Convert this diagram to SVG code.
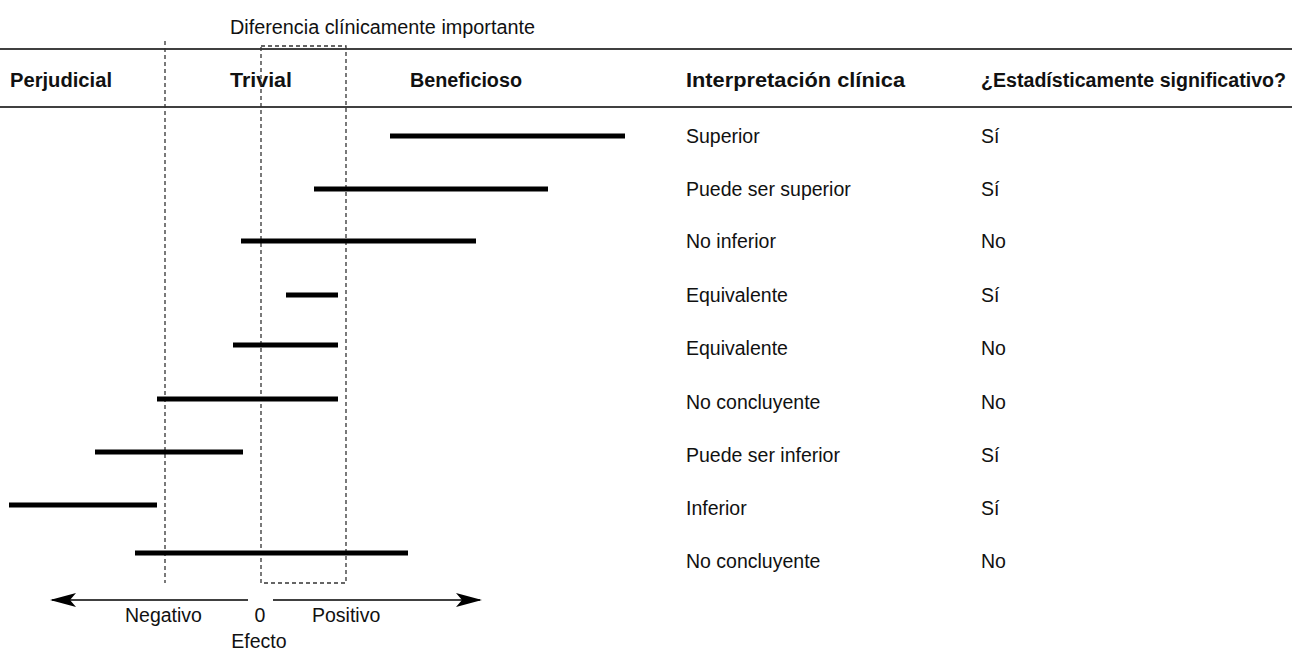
<svg xmlns="http://www.w3.org/2000/svg" width="1292" height="660" viewBox="0 0 1292 660">
<style>
text{font-family:"Liberation Sans",Arial,sans-serif;fill:#111;}
.h{font-size:19.5px;font-weight:bold;}
.t{font-size:19.5px;}
.bar{stroke:#000;stroke-width:5;}
.dash{stroke:#333;stroke-width:1.3;stroke-dasharray:4 3;fill:none;}
.rule{stroke:#000;stroke-width:1.5;}
.ax{stroke:#000;stroke-width:1.5;}
</style>
<defs>
<marker id="ah" viewBox="0 0 26 16" refX="24" refY="8" markerWidth="26" markerHeight="16" markerUnits="userSpaceOnUse" orient="auto-start-reverse">
<path d="M0,1 L26,8 L0,15 L6,8 Z" fill="#000"/>
</marker>
</defs>
<rect width="1292" height="660" fill="#fff"/>
<g id="header">
<text class="t" x="230" y="34" textLength="305" lengthAdjust="spacingAndGlyphs">Diferencia clínicamente importante</text>
<line class="rule" x1="0" y1="49" x2="1292" y2="49"/>
<line class="rule" x1="0" y1="107" x2="1292" y2="107"/>
<text class="h" x="10" y="87" textLength="102" lengthAdjust="spacingAndGlyphs">Perjudicial</text>
<text class="h" x="230" y="87" textLength="62" lengthAdjust="spacingAndGlyphs">Trivial</text>
<text class="h" x="410" y="87" textLength="112" lengthAdjust="spacingAndGlyphs">Beneficioso</text>
<text class="h" x="686" y="87" textLength="219" lengthAdjust="spacingAndGlyphs">Interpretación clínica</text>
<text class="h" x="981" y="87" textLength="305" lengthAdjust="spacingAndGlyphs">¿Estadísticamente significativo?</text>
</g>
<g id="guides">
<line class="dash" x1="165" y1="41" x2="165" y2="583"/>
<rect class="dash" x="261" y="46" width="85" height="537"/>
</g>
<g id="bars">
<line class="bar" x1="390" y1="136" x2="625" y2="136"/>
<line class="bar" x1="314" y1="189" x2="548" y2="189"/>
<line class="bar" x1="241" y1="241" x2="476" y2="241"/>
<line class="bar" x1="286" y1="295" x2="338" y2="295"/>
<line class="bar" x1="233" y1="345" x2="338" y2="345"/>
<line class="bar" x1="157" y1="399" x2="338" y2="399"/>
<line class="bar" x1="95" y1="452" x2="243" y2="452"/>
<line class="bar" x1="9" y1="505" x2="157" y2="505"/>
<line class="bar" x1="135" y1="553" x2="408" y2="553"/>
</g>
<g id="rows">
<text class="t" x="686" y="143">Superior</text><text class="t" x="981" y="143">Sí</text>
<text class="t" x="686" y="196">Puede ser superior</text><text class="t" x="981" y="196">Sí</text>
<text class="t" x="686" y="248">No inferior</text><text class="t" x="981" y="248">No</text>
<text class="t" x="686" y="302">Equivalente</text><text class="t" x="981" y="302">Sí</text>
<text class="t" x="686" y="355">Equivalente</text><text class="t" x="981" y="355">No</text>
<text class="t" x="686" y="409">No concluyente</text><text class="t" x="981" y="409">No</text>
<text class="t" x="686" y="462">Puede ser inferior</text><text class="t" x="981" y="462">Sí</text>
<text class="t" x="686" y="515">Inferior</text><text class="t" x="981" y="515">Sí</text>
<text class="t" x="686" y="568">No concluyente</text><text class="t" x="981" y="568">No</text>
</g>
<g id="connectors">
<line class="ax" x1="248" y1="600" x2="52" y2="600" marker-end="url(#ah)"/>
<line class="ax" x1="273" y1="600" x2="480" y2="600" marker-end="url(#ah)"/>
</g>
<g id="axis-labels">
<text class="t" x="125" y="622">Negativo</text>
<text class="t" x="260" y="622" text-anchor="middle">0</text>
<text class="t" x="312" y="622">Positivo</text>
<text class="t" x="259" y="648" text-anchor="middle">Efecto</text>
</g>
</svg>
